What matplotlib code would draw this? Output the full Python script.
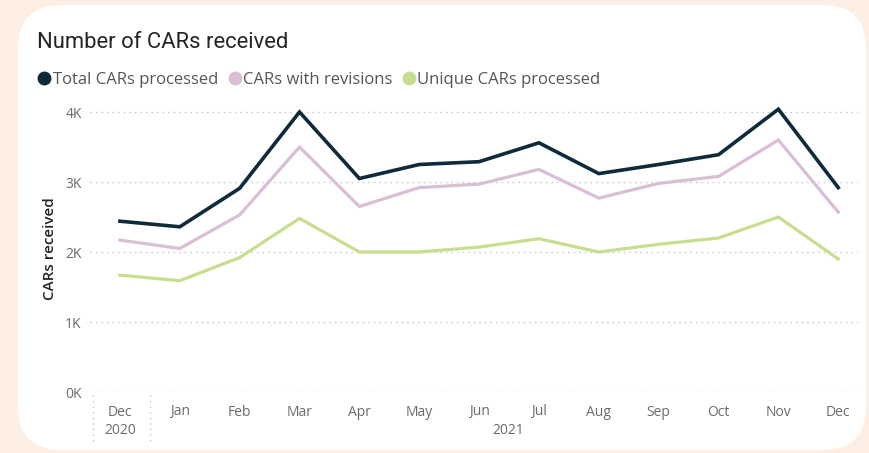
import matplotlib
matplotlib.use("Agg")
import matplotlib.pyplot as plt
from matplotlib.patches import FancyBboxPatch
from matplotlib.lines import Line2D
import numpy as np

months = ["Dec", "Jan", "Feb", "Mar", "Apr", "May", "Jun", "Jul", "Aug", "Sep", "Oct", "Nov", "Dec"]
years = ["2020", "2021"]
total = [2.44, 2.36, 2.91, 4.00, 3.05, 3.25, 3.29, 3.56, 3.12, 3.25, 3.39, 4.04, 2.92]
revisions = [2.17, 2.05, 2.53, 3.50, 2.65, 2.92, 2.97, 3.18, 2.77, 2.98, 3.08, 3.60, 2.57]
unique = [1.67, 1.59, 1.92, 2.48, 2.00, 2.00, 2.07, 2.19, 2.00, 2.11, 2.20, 2.50, 1.90]
ytick_vals = [0, 1, 2, 3, 4]
ytick_labels = ["0K", "1K", "2K", "3K", "4K"]
series_names = ["Total CARs processed", "CARs with revisions", "Unique CARs processed"]
colors = ["#0F2B3A", "#D9BED6", "#C6DF8F"]

FONT = ["Open Sans", "DejaVu Sans"]
plt.rcParams["font.family"] = FONT

W, H = 869, 453
fig = plt.figure(figsize=(W / 100, H / 100), dpi=100)
fig.patch.set_facecolor("#FDEFE4")

# white card
card = FancyBboxPatch((18 / W, 1 - 450 / H), (866 - 18) / W, (450 - 5) / H,
                      boxstyle="round,pad=0,rounding_size=0.05",
                      transform=fig.transFigure, facecolor="white", edgecolor="none",
                      mutation_aspect=W / H, zorder=-10)
fig.patches.append(card)

ax_left, ax_right = 90 / W, 858 / W
ax_bottom, ax_top = 1 - 392 / H, 1 - 105 / H
ax = fig.add_axes([ax_left, ax_bottom, ax_right - ax_left, ax_top - ax_bottom])
ax.set_facecolor("none")
ax.set_zorder(2)

x = np.arange(len(months))
for vals, c, lw in zip([unique, revisions, total], colors[::-1], [2.3, 2.3, 2.6]):
    ax.plot(x, vals, color=c, lw=lw, solid_joinstyle="miter", zorder=3)

ax.set_xlim(-0.5, 12.33)
ax.set_ylim(0, 4.1)
ax.set_yticks(ytick_vals)
ax.set_yticklabels(ytick_labels)
ax.grid(axis="y", linestyle=(0, (1, 3)), color="#C3C3C3", lw=1.0)
ax.set_xticks(x)
ax.set_xticklabels(months)
ax.tick_params(axis="both", length=0, labelsize=10, labelcolor="#6B6B6B")
ax.tick_params(axis="x", pad=9)
ax.tick_params(axis="y", pad=6)
for s in ax.spines.values():
    s.set_visible(False)

ax.set_ylabel("CARs received", fontsize=11, color="#252423", fontweight="semibold", labelpad=6)

# year labels
fig.text(120 / W, 1 - 430 / H, years[0], ha="center", va="center", fontsize=10, color="#6B6B6B")
fig.text(508 / W, 1 - 430 / H, years[1], ha="center", va="center", fontsize=10, color="#6B6B6B")

# separators
for xs in [93, 150]:
    fig.add_artist(Line2D([xs / W, xs / W], [1 - 395 / H, 1 - 442 / H], transform=fig.transFigure,
                          linestyle=(0, (1, 3)), color="#C3C3C3", lw=1.0))

# title
fig.text(37 / W, 1 - 42 / H, "Number of CARs received", ha="left", va="center",
         fontsize=15.8, color="#252423", family=["Roboto", "DejaVu Sans"])

# legend
handles = [Line2D([], [], marker="o", linestyle="none", markersize=9, markerfacecolor=c,
                  markeredgecolor=c) for c in colors]
fig.legend(handles, series_names, loc="center left", bbox_to_anchor=(36 / W, 1 - 80 / H),
           ncol=3, frameon=False, fontsize=12, labelcolor="#555555", handletextpad=0.0,
           columnspacing=0.5, handlelength=1.0, borderaxespad=0, borderpad=0)

fig.savefig("out.png", dpi=100, facecolor=fig.get_facecolor())
